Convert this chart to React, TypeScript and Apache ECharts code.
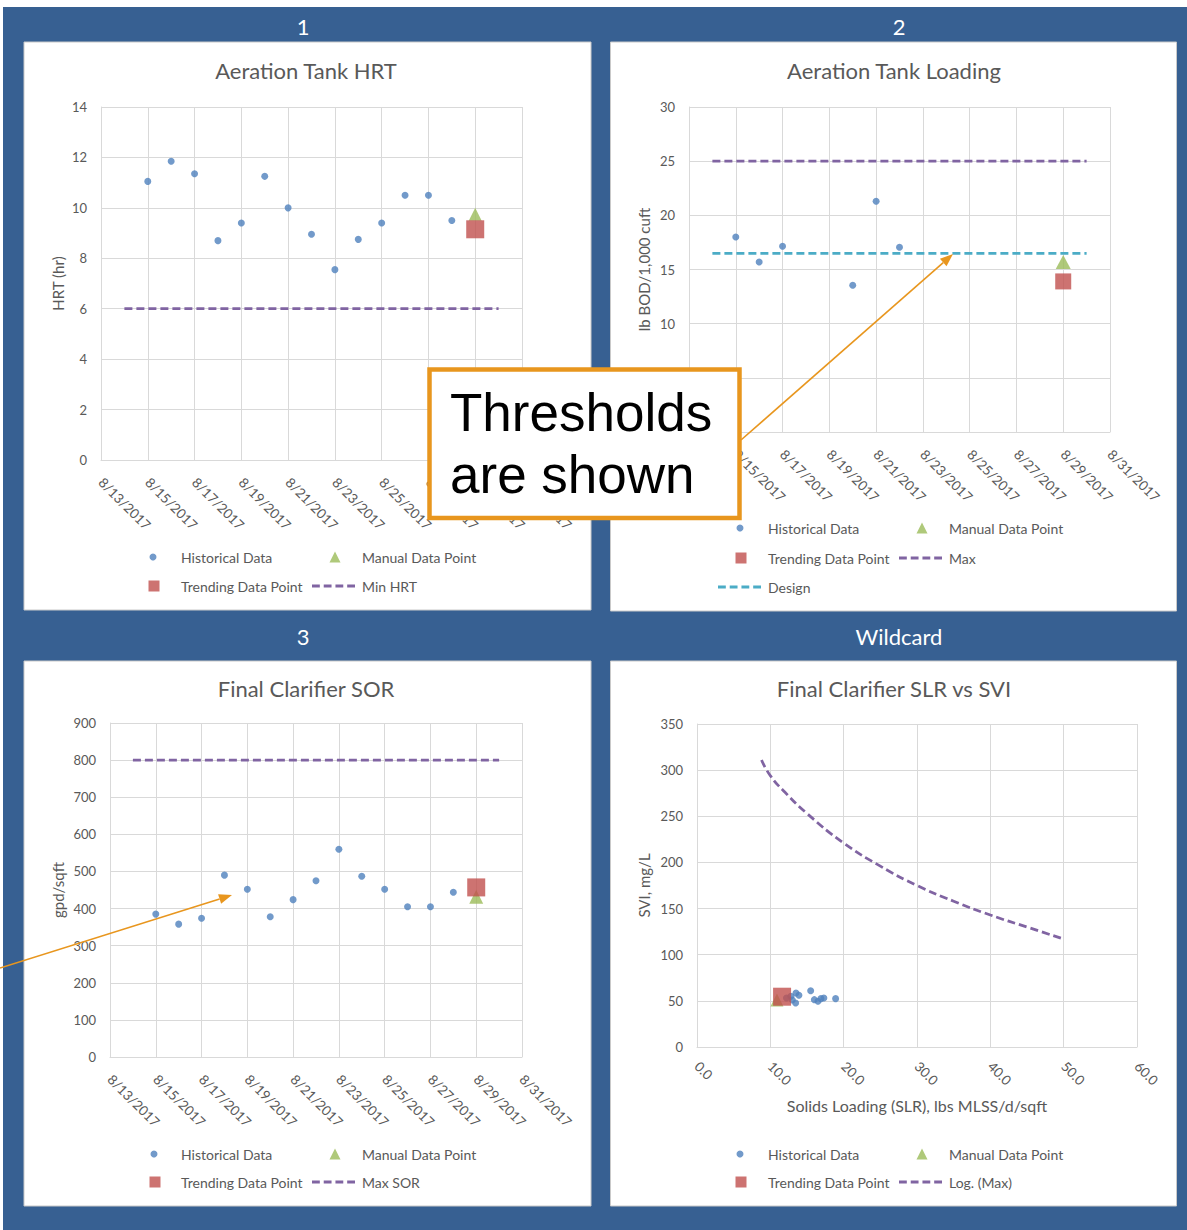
import React, { useEffect, useRef } from 'react';
import * as echarts from 'echarts';

// ---------- data ----------
const AXIS_START = '2017-08-13';
const AXIS_END = '2017-08-31';
const dateTickLabels = ['8/13/2017', '8/15/2017', '8/17/2017', '8/19/2017', '8/21/2017', '8/23/2017', '8/25/2017', '8/27/2017', '8/29/2017', '8/31/2017'];
const THRESH_START = '2017-08-14';
const THRESH_END = '2017-08-30';
const MANUAL_DATE = '2017-08-29';

// Chart 1 - Aeration Tank HRT
const hrtDates = ['2017-08-15', '2017-08-16', '2017-08-17', '2017-08-18', '2017-08-19', '2017-08-20', '2017-08-21', '2017-08-22', '2017-08-23', '2017-08-24', '2017-08-25', '2017-08-26', '2017-08-27', '2017-08-28'];
const hrtValues = [11.05, 11.85, 11.35, 8.7, 9.4, 11.25, 10.0, 8.95, 7.55, 8.75, 9.4, 10.5, 10.5, 9.5];
const hrtManual = 9.75;
const hrtTrending = 9.15;
const hrtMin = 6;

// Chart 2 - Aeration Tank Loading
const loadDates = ['2017-08-15', '2017-08-16', '2017-08-17', '2017-08-20', '2017-08-21', '2017-08-22'];
const loadValues = [18.0, 15.7, 17.15, 13.55, 21.3, 17.05];
const loadManual = 15.7;
const loadTrending = 13.9;
const loadMax = 25;
const loadDesign = 16.5;

// Chart 3 - Final Clarifier SOR
const sorDates = ['2017-08-15', '2017-08-16', '2017-08-17', '2017-08-18', '2017-08-19', '2017-08-20', '2017-08-21', '2017-08-22', '2017-08-23', '2017-08-24', '2017-08-25', '2017-08-26', '2017-08-27', '2017-08-28'];
const sorValues = [385, 358, 374, 490, 452, 378, 424, 475, 560, 487, 452, 405, 405, 444];
const sorManual = 432;
const sorTrending = 457;
const sorMax = 800;

// Chart 4 - Final Clarifier SLR vs SVI
const slrHist = [12.2, 12.8, 13.0, 13.5, 13.9, 13.45, 15.5, 16.0, 16.5, 16.9, 17.3, 18.9];
const sviHist = [53, 55, 51, 58.6, 56, 47.7, 61, 51.3, 49.5, 52.4, 53.1, 52.4];
const slrManual = 10.9;
const sviManual = 50.8;
const slrTrending = 11.6;
const sviTrending = 54.5;
const slrMaxCurve = [8.8, 10, 12, 15, 20, 25, 30, 35, 40, 45, 50];
const sviMaxCurve = [311, 294, 276, 253, 221, 196, 175, 158, 143, 130, 117];

// ---------- style ----------
const BLUE = '#4F81BD';
const RED = '#C0504D';
const GREEN = '#9BBB59';
const PURPLE = '#8064A2';
const AQUA = '#4BACC6';
const FRAME = '#376092';
const ORANGE = '#E8961E';
const GREY_TXT = '#595959';
const GRID = '#D9D9D9';
const FONT = 'Lato';
const DASH = [8, 4];
const DASH_ICON = 'path://M0,0h8v3h-8z M12,0h8v3h-8z M24,0h8v3h-8z M36,0h8v3h-8z';

const serial = (d: string) => {
  const [y, m, dd] = d.split('-').map(Number);
  return Math.round((Date.UTC(y, m - 1, dd) - Date.UTC(1899, 11, 30)) / 86400000);
};

const X0 = serial(AXIS_START);

function dateXAxis(gridIndex: number) {
  return {
    type: 'value',
    gridIndex,
    min: X0,
    max: serial(AXIS_END),
    interval: 2,
    axisLine: { show: true, onZero: false, lineStyle: { color: GRID, width: 1 } },
    axisTick: { show: false },
    splitLine: { show: true, lineStyle: { color: GRID, width: 1 } },
    axisLabel: {
      rotate: -45,
      margin: 20,
      color: GREY_TXT,
      fontFamily: FONT,
      fontSize: 13.5,
      formatter: (v: number) => dateTickLabels[Math.round((v - X0) / 2)] ?? '',
    },
  };
}

function valueYAxis(gridIndex: number, max: number, interval: number, name: string, nameGap: number) {
  return {
    type: 'value',
    gridIndex,
    min: 0,
    max,
    interval,
    name,
    nameLocation: 'middle',
    nameGap,
    nameRotate: 90,
    nameTextStyle: { color: GREY_TXT, fontFamily: FONT, fontSize: 15 },
    axisLine: { show: true, lineStyle: { color: GRID } },
    axisTick: { show: false },
    splitLine: { show: true, lineStyle: { color: GRID } },
    axisLabel: { margin: 14, color: GREY_TXT, fontFamily: FONT, fontSize: 13 },
  };
}

function histSeries(idx: number, xs: number[], ys: number[]) {
  return {
    type: 'scatter', name: 'Historical Data', xAxisIndex: idx, yAxisIndex: idx,
    data: xs.map((x, i) => [x, ys[i]]),
    symbol: 'circle', symbolSize: 7, itemStyle: { color: BLUE }, z: 2, silent: true,
  };
}
function manualSeries(idx: number, x: number, y: number, size: any) {
  return {
    type: 'scatter', name: 'Manual Data Point', xAxisIndex: idx, yAxisIndex: idx,
    data: [[x, y]], symbol: 'triangle', symbolSize: size, itemStyle: { color: GREEN }, z: 3, silent: true,
  };
}
function trendSeries(idx: number, x: number, y: number, size: number) {
  return {
    type: 'scatter', name: 'Trending Data Point', xAxisIndex: idx, yAxisIndex: idx,
    data: [[x, y]], symbol: 'rect', symbolSize: size, itemStyle: { color: RED }, z: 4, silent: true,
  };
}
function lineSeries(idx: number, name: string, xs: number[], ys: number[], color: string, smooth = false) {
  return {
    type: 'line', name, xAxisIndex: idx, yAxisIndex: idx,
    data: xs.map((x, i) => [x, ys[i]]),
    symbol: 'none', smooth, silent: true,
    lineStyle: { type: DASH, width: 2.75, color },
    itemStyle: { color },
    z: 5,
  };
}

// one legend component per entry so each can sit where the reference puts it
function legendItem(name: string, icon: string, color: string, left: number, cy: number, w: number, h: number, textX: number) {
  const padLeft = Math.max(0, textX - (left + w) - 5);
  return {
    data: [{ name, icon, itemStyle: { color, borderWidth: 0 } }],
    left,
    top: cy - 7,
    itemWidth: w,
    itemHeight: h,
    padding: 0,
    itemGap: 0,
    selectedMode: false,
    textStyle: { color: GREY_TXT, fontFamily: FONT, fontSize: 14, padding: [0, 0, 0, padLeft] },
  };
}

function legendsFor(cx: number, textX: number, cx2: number, textX2: number, y1: number, y2: number,
  lineName: string, extraLine?: { name: string; color: string; y: number }) {
  const L: any[] = [
    legendItem('Historical Data', 'circle', BLUE, cx - 3.5, y1, 7, 7, textX),
    legendItem('Manual Data Point', 'triangle', GREEN, cx2 - 5.5, y1, 11, 11, textX2),
    legendItem('Trending Data Point', 'rect', RED, cx - 4.5, y2, 11, 11, textX),
    legendItem(lineName, DASH_ICON, PURPLE, textX2 - 50, y2, 43, 3, textX2),
  ];
  if (extraLine) L.push(legendItem(extraLine.name, DASH_ICON, extraLine.color, textX - 50, extraLine.y, 43, 3, textX));
  return L;
}

function arrow(x1: number, y1: number, x2: number, y2: number) {
  const dx = x2 - x1, dy = y2 - y1;
  const len = Math.hypot(dx, dy);
  const ux = dx / len, uy = dy / len;
  const hl = 13, hw = 5;
  const bx = x2 - ux * hl, by = y2 - uy * hl;
  return [
    { type: 'line', z: 101, silent: true, shape: { x1, y1, x2: bx, y2: by }, style: { stroke: ORANGE, lineWidth: 1.6 } },
    {
      type: 'polygon', z: 101, silent: true,
      shape: { points: [[x2, y2], [bx - uy * hw, by + ux * hw], [bx + uy * hw, by - ux * hw]] },
      style: { fill: ORANGE },
    },
  ];
}

const headingStyle = { color: '#FFFFFF', fontFamily: FONT, fontSize: 22, fontWeight: 'normal' };
const titleStyle = { color: GREY_TXT, fontFamily: FONT, fontSize: 22, fontWeight: 'normal' };
const mkTitle = (text: string, left: number, top: number, style: any) => ({
  text, left, top, textAlign: 'center', textVerticalAlign: 'middle', padding: 0, textStyle: style,
});

export default function App() {
  const ref = useRef<HTMLDivElement>(null);
  useEffect(() => {
    if (!ref.current) return;
    const chart = echarts.init(ref.current, null, { renderer: 'svg' });
    const tS = serial(THRESH_START), tE = serial(THRESH_END), mD = serial(MANUAL_DATE);

    const option: any = {
      animation: false,
      backgroundColor: '#FFFFFF',
      title: [
        mkTitle('1', 303, 26, headingStyle),
        mkTitle('2', 899, 26, headingStyle),
        mkTitle('3', 303, 636, headingStyle),
        mkTitle('Wildcard', 899, 636, headingStyle),
        mkTitle('Aeration Tank HRT', 306, 70, titleStyle),
        mkTitle('Aeration Tank Loading', 894, 70, titleStyle),
        mkTitle('Final Clarifier SOR', 306, 688, titleStyle),
        mkTitle('Final Clarifier SLR vs SVI', 894, 688, titleStyle),
      ],
      grid: [
        { left: 101, top: 107, width: 421, height: 353 },
        { left: 689, top: 107, width: 421, height: 325 },
        { left: 110, top: 723, width: 412, height: 334 },
        { left: 697, top: 724, width: 440, height: 323 },
      ],
      xAxis: [
        dateXAxis(0),
        dateXAxis(1),
        dateXAxis(2),
        {
          type: 'value', gridIndex: 3, min: 0, max: 60, interval: 10,
          name: 'Solids Loading (SLR), lbs MLSS/d/sqft', nameLocation: 'middle', nameGap: 50,
          nameTextStyle: { color: GREY_TXT, fontFamily: FONT, fontSize: 16 },
          axisLine: { show: true, lineStyle: { color: GRID } },
          axisTick: { show: false },
          splitLine: { show: true, lineStyle: { color: GRID } },
          axisLabel: { rotate: -45, margin: 17, color: GREY_TXT, fontFamily: FONT, fontSize: 13.5, formatter: (v: number) => v.toFixed(1) },
        },
      ],
      yAxis: [
        valueYAxis(0, 14, 2, 'HRT (hr)', 36),
        valueYAxis(1, 30, 5, 'lb BOD/1,000 cuft', 38),
        valueYAxis(2, 900, 100, 'gpd/sqft', 45),
        valueYAxis(3, 350, 50, 'SVI, mg/L', 46),
      ],
      legend: [
        ...legendsFor(153, 181, 335, 362, 557, 586, 'Min HRT'),
        ...legendsFor(740, 768, 922, 949, 528, 558, 'Max', { name: 'Design', color: AQUA, y: 587 }),
        ...legendsFor(154, 181, 335, 362, 1154, 1182, 'Max SOR'),
        ...legendsFor(740, 768, 922, 949, 1154, 1182, 'Log. (Max)'),
      ],
      series: [
        histSeries(0, hrtDates.map(serial), hrtValues),
        manualSeries(0, mD, hrtManual, 13),
        trendSeries(0, mD, hrtTrending, 18),
        lineSeries(0, 'Min HRT', [tS, tE], [hrtMin, hrtMin], PURPLE),

        histSeries(1, loadDates.map(serial), loadValues),
        manualSeries(1, mD, loadManual, [15, 14]),
        trendSeries(1, mD, loadTrending, 16),
        lineSeries(1, 'Max', [tS, tE], [loadMax, loadMax], PURPLE),
        lineSeries(1, 'Design', [tS, tE], [loadDesign, loadDesign], AQUA),

        histSeries(2, sorDates.map(serial), sorValues),
        manualSeries(2, mD, sorManual, 14),
        trendSeries(2, mD, sorTrending, 18),
        lineSeries(2, 'Max SOR', [tS, tE], [sorMax, sorMax], PURPLE),

        histSeries(3, slrHist, sviHist),
        manualSeries(3, slrManual, sviManual, 13),
        trendSeries(3, slrTrending, sviTrending, 18),
        lineSeries(3, 'Log. (Max)', slrMaxCurve, sviMaxCurve, PURPLE, true),
      ],
      graphic: [
        { type: 'rect', z: -20, silent: true, shape: { x: 3, y: 7, width: 1184, height: 1223 }, style: { fill: FRAME } },
        { type: 'rect', z: -10, silent: true, shape: { x: 24, y: 42, width: 567, height: 568 }, style: { fill: '#FFFFFF', stroke: '#C9C9C9', lineWidth: 1 } },
        { type: 'rect', z: -10, silent: true, shape: { x: 610.5, y: 42, width: 566, height: 569 }, style: { fill: '#FFFFFF', stroke: '#C9C9C9', lineWidth: 1 } },
        { type: 'rect', z: -10, silent: true, shape: { x: 24, y: 661, width: 567, height: 545 }, style: { fill: '#FFFFFF', stroke: '#C9C9C9', lineWidth: 1 } },
        { type: 'rect', z: -10, silent: true, shape: { x: 610.5, y: 661, width: 566, height: 545 }, style: { fill: '#FFFFFF', stroke: '#C9C9C9', lineWidth: 1 } },
        { type: 'rect', z: 100, silent: true, shape: { x: 429.5, y: 369.5, width: 310, height: 148.5 }, style: { fill: '#FFFFFF', stroke: ORANGE, lineWidth: 4.5 } },
        { type: 'text', z: 101, silent: true, x: 450, y: 412, style: { text: 'Thresholds', font: '53px "Liberation Sans", Arial, sans-serif', fill: '#000000', align: 'left', verticalAlign: 'middle' } },
        { type: 'text', z: 101, silent: true, x: 450, y: 474, style: { text: 'are shown', font: '53px "Liberation Sans", Arial, sans-serif', fill: '#000000', align: 'left', verticalAlign: 'middle' } },
        ...arrow(741, 440, 953, 254),
        ...arrow(0, 968, 232, 895),
      ],
    };
    chart.setOption(option);
    return () => chart.dispose();
  }, []);
  return <div ref={ref} style={{ position: 'absolute', left: 0, top: 0, width: 1187, height: 1230 }} />;
}
